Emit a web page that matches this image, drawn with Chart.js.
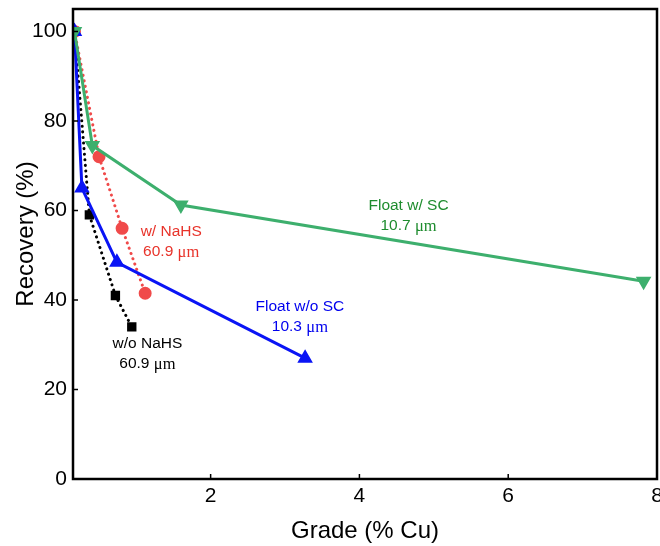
<!DOCTYPE html>
<html>
<head>
<meta charset="utf-8">
<script src="https://cdn.jsdelivr.net/npm/chart.js@4"></script>
<style>
  html, body { margin: 0; padding: 0; background: #fff; }
  #wrap { width: 660px; height: 546px; }
</style>
</head>
<body>
<div id="wrap"><canvas id="mycanvas"></canvas></div>
<script>
// grade (% Cu) vs recovery (%)
var gradeWithSC = [0.17, 0.41, 1.6, 7.82];
var recWithSC = [100, 74.5, 61.2, 44.2];
var gradeNoSC = [0.17, 0.27, 0.74, 3.27];
var recNoSC = [100, 65, 48.4, 27];
var gradeNaHS = [0.17, 0.5, 0.81, 1.12];
var recNaHS = [100, 72, 56, 41.5];
var gradeNoNaHS = [0.17, 0.37, 0.72, 0.94];
var recNoNaHS = [100, 59, 41, 34];
var xTicks = [2, 4, 6, 8];
var yTicks = [0, 20, 40, 60, 80, 100];

function pts(xs, ys){
	var out = [];
	for (var i in xs){
		out.push({x: xs[i], y: ys[i]});
	}
	return out;
}

// curve labels: [x value, y value, first line, size, colour]
var labels = [
	[4.66, 58.9, 'Float w/ SC', '10.7', '#1e8c2e'],
	[3.2, 36.2, 'Float w/o SC', '10.3', '#0000ee'],
	[1.47, 53, 'w/ NaHS', '60.9', '#e8332a'],
	[1.15, 28, 'w/o NaHS', '60.9', '#000000']
];

var SANS = '"Liberation Sans", Arial, sans-serif';
var SERIF = '"Liberation Serif", "Times New Roman", serif';

var frame = {
	id: 'frame',
	afterDraw: function(chart){
		var c = chart.ctx, a = chart.chartArea;
		var xs = chart.scales.x, ys = chart.scales.y;
		c.save();
		c.strokeStyle = '#000';
		c.lineWidth = 2.5;
		c.strokeRect(a.left, a.top, a.right - a.left, a.bottom - a.top);
		// ticks point inwards
		c.lineWidth = 1.5;
		c.beginPath();
		xTicks.forEach(function(v){
			var p = xs.getPixelForValue(v);
			if (p < a.right - 2){
				c.moveTo(p, a.bottom);
				c.lineTo(p, a.bottom - 5);
			}
		});
		yTicks.forEach(function(v){
			var p = ys.getPixelForValue(v);
			c.moveTo(a.left, p);
			c.lineTo(a.left + 5, p);
		});
		c.stroke();
		c.textAlign = 'left';
		c.textBaseline = 'middle';
		labels.forEach(function(l){
			var cx = xs.getPixelForValue(l[0]);
			var cy = ys.getPixelForValue(l[1]);
			c.fillStyle = l[4];
			c.font = '15.5px ' + SANS;
			var w1 = c.measureText(l[2]).width;
			c.fillText(l[2], cx - w1 / 2, cy - 10);
			var num = l[3] + ' ';
			var wn = c.measureText(num).width;
			c.font = '16.5px ' + SERIF;
			var wu = c.measureText('\u03bcm').width;
			var sx = cx - (wn + wu) / 2;
			c.font = '15.5px ' + SANS;
			c.fillText(num, sx, cy + 10);
			c.font = '16.5px ' + SERIF;
			c.fillText('\u03bcm', sx + wn, cy + 11);
		});
		// y axis title, sits a little above the middle
		c.translate(26, 234);
		c.rotate(-Math.PI / 2);
		c.textAlign = 'center';
		c.fillStyle = '#000';
		c.font = '24px ' + SANS;
		c.fillText('Recovery (%)', 0, 0);
		c.restore();
	}
};

var chartdata = {
	datasets: [
		{
			label: 'Float w/ SC',
			data: pts(gradeWithSC, recWithSC),
			borderColor: '#3daf6d',
			backgroundColor: '#3daf6d',
			borderWidth: 3,
			pointStyle: 'triangle',
			rotation: 180,
			pointRadius: 6,
			order: 1
		},
		{
			label: 'Float w/o SC',
			data: pts(gradeNoSC, recNoSC),
			borderColor: '#0a14f5',
			backgroundColor: '#0a14f5',
			borderWidth: 3,
			pointStyle: 'triangle',
			pointRadius: 6,
			order: 2
		},
		{
			label: 'w/ NaHS',
			data: pts(gradeNaHS, recNaHS),
			borderColor: '#f04a4a',
			backgroundColor: '#f04a4a',
			borderWidth: 3,
			borderDash: [0.1, 5.5],
			borderCapStyle: 'round',
			pointStyle: 'circle',
			pointRadius: 5,
			order: 3
		},
		{
			label: 'w/o NaHS',
			data: pts(gradeNoNaHS, recNoNaHS),
			borderColor: '#000000',
			backgroundColor: '#000000',
			borderWidth: 3,
			borderDash: [0.1, 5.5],
			borderCapStyle: 'round',
			pointStyle: 'rect',
			pointRadius: 4.5,
			order: 4
		}
	]
};

var ctx = document.getElementById('mycanvas');
var plot = new Chart(ctx, {
	type: 'scatter',
	data: chartdata,
	plugins: [frame],
	options: {
		responsive: true,
		maintainAspectRatio: false,
		animation: false,
		showLine: true,
		layout: { autoPadding: false, padding: { left: 0, right: 3, top: 9, bottom: 0 } },
		plugins: {
			legend: { display: false },
			tooltip: { enabled: false }
		},
		elements: {
			line: { tension: 0 },
			point: { borderWidth: 0, hoverRadius: 6 }
		},
		scales: {
			x: {
				type: 'linear',
				min: 0.15,
				max: 8,
				afterBuildTicks: function(s){ s.ticks = xTicks.map(function(v){ return {value: v}; }); },
				afterFit: function(s){
					s.height = 67;
					s.paddingLeft = 0; s.paddingRight = 0;
				},
				grid: { display: false, drawTicks: false },
				border: { display: false },
				ticks: {
					color: '#000',
					padding: 5,
					maxRotation: 0,
					font: { family: SANS, size: 21 }
				},
				title: {
					display: true,
					text: 'Grade (% Cu)',
					color: '#000',
					padding: { top: 3, bottom: 0 },
					font: { family: SANS, size: 24 }
				}
			},
			y: {
				type: 'linear',
				min: 0,
				max: 105,
				afterBuildTicks: function(s){ s.ticks = yTicks.map(function(v){ return {value: v}; }); },
				afterFit: function(s){
					s.width = 73;
					s.paddingTop = 0; s.paddingBottom = 0;
				},
				grid: { display: false, drawTicks: false },
				border: { display: false },
				ticks: {
					color: '#000',
					padding: 6,
					font: { family: SANS, size: 21 }
				},
				title: { display: false }
			}
		}
	}
});
</script>
</body>
</html>
